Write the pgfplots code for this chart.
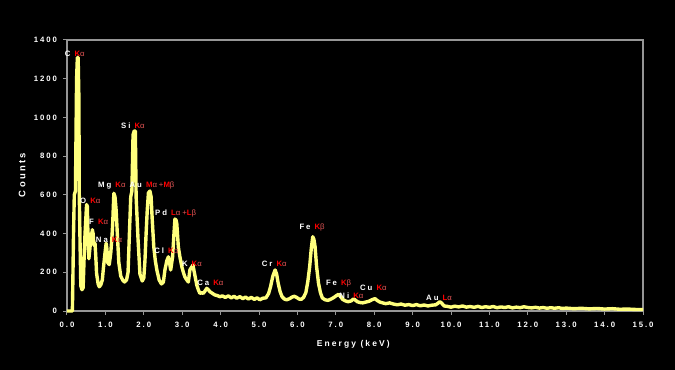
\documentclass[border=0pt]{standalone}
\usepackage{pgfplots}
\pgfplotsset{compat=1.18}
\usepackage{fontspec}
\setmainfont{Liberation Sans}
\newfontfamily\spc[LetterSpace=25]{Liberation Sans}
\definecolor{spec}{RGB}{255,255,125}
\definecolor{axgray}{RGB}{150,150,150}
\definecolor{lred}{RGB}{255,0,0}
\definecolor{gred}{RGB}{225,85,85}
\newcommand{\el}[1]{\textcolor{white}{#1}}
\newcommand{\lnn}[1]{\textcolor{lred}{#1}}
\newcommand{\gr}[1]{\textcolor{gred}{\mdseries #1}}
\tikzset{lab/.style={anchor=west, inner sep=0pt, font=\fontsize{7.8}{9}\selectfont\bfseries\spc}}
\begin{document}
\begin{tikzpicture}
\useasboundingbox (-67bp,-59bp) rectangle (608bp,311bp);
\fill[black] (-67bp,-59bp) rectangle (608bp,311bp);
\begin{axis}[
  at={(0,0)}, anchor=south west,
  scale only axis, width=576bp, height=271bp,
  xmin=0, xmax=15, ymin=0, ymax=1400,
  xtick={0,...,15}, ytick={0,200,...,1400},
  axis line style={axgray, line width=1.2bp},
  tick style={axgray, line width=1bp},
  tick align=outside, major tick length=3.5bp,
  xtick pos=bottom, ytick pos=left,
  clip=false,
  /pgf/number format/assume math mode=true,
  tick label style={font=\fontsize{7.8}{9}\selectfont\bfseries\spc, white},
  x tick label style={yshift=-4bp, /pgf/number format/fixed, /pgf/number format/fixed zerofill, /pgf/number format/precision=1},
  y tick label style={xshift=-3bp, /pgf/number format/1000 sep={}},
  xlabel={Energy (keV)},
  xlabel style={at={(axis description cs:0.497,-0.122)}, anchor=center, font=\fontsize{8.5}{10}\selectfont\bfseries\spc, white},
  ylabel={Counts},
  ylabel style={at={(axis description cs:-0.078,0.502)}, anchor=center, font=\fontsize{9.5}{11}\selectfont\bfseries\spc, white},
]
\addplot[spec, line width=3.4bp, line join=round, mark=none] table {
0.00 0
0.14 0
0.15 120
0.17 400
0.19 600
0.22 620
0.25 1200
0.27 1310
0.29 1310
0.31 1100
0.32 600
0.34 350
0.36 130
0.39 110
0.42 120
0.45 300
0.47 400
0.51 550
0.53 540
0.55 350
0.57 270
0.60 330
0.62 400
0.64 380
0.66 420
0.68 400
0.70 340
0.73 350
0.75 280
0.77 195
0.81 140
0.84 125
0.88 135
0.92 160
0.95 225
0.99 300
1.02 350
1.04 320
1.06 250
1.10 240
1.14 300
1.17 380
1.19 450
1.22 608
1.25 590
1.28 520
1.31 400
1.35 250
1.40 180
1.45 160
1.50 150
1.55 160
1.59 200
1.62 370
1.66 590
1.69 620
1.72 910
1.75 930
1.78 930
1.80 590
1.85 370
1.90 190
1.96 155
2.00 170
2.03 260
2.06 400
2.09 520
2.12 610
2.16 620
2.19 590
2.22 470
2.26 332
2.30 260
2.34 212
2.40 160
2.46 140
2.51 150
2.55 212
2.60 260
2.64 280
2.67 250
2.70 212
2.75 280
2.78 380
2.81 475
2.84 470
2.86 450
2.90 330
2.94 280
2.99 229
3.03 200
3.07 176
3.12 160
3.16 150
3.20 212
3.24 225
3.28 237
3.32 195
3.38 134
3.42 110
3.46 91
3.51 95
3.55 91
3.60 105
3.64 117
3.68 110
3.72 100
3.78 92
3.85 83
3.91 80
3.98 74
4.05 78
4.12 70
4.20 78
4.28 68
4.35 76
4.42 66
4.50 74
4.58 64
4.65 72
4.72 62
4.80 70
4.88 60
4.95 68
5.02 58
5.10 66
5.18 68
5.25 90
5.30 125
5.36 180
5.42 212
5.46 190
5.50 143
5.55 100
5.60 74
5.66 62
5.72 58
5.80 64
5.86 72
5.92 76
5.98 70
6.04 62
6.10 60
6.16 70
6.22 95
6.27 150
6.32 229
6.36 320
6.40 384
6.43 370
6.46 333
6.50 229
6.55 143
6.60 95
6.65 67
6.72 58
6.80 55
6.88 62
6.95 70
7.02 80
7.07 86
7.12 75
7.18 60
7.25 52
7.32 48
7.40 52
7.46 62
7.50 58
7.56 48
7.62 44
7.70 42
7.78 46
7.86 50
7.94 58
8.02 64
8.08 54
8.15 46
8.22 42
8.30 38
8.40 42
8.50 36
8.60 32
8.70 36
8.80 30
8.90 33
9.00 28
9.10 33
9.20 27
9.30 31
9.40 26
9.50 30
9.60 32
9.66 40
9.71 48
9.76 40
9.82 26
9.90 24
10.0 20
10.1 25
10.2 21
10.3 26
10.4 20
10.5 23
10.6 19
10.7 24
10.8 18
10.9 22
11.0 19
11.1 23
11.2 17
11.3 21
11.4 18
11.5 22
11.6 16
11.7 20
11.8 17
11.9 22
12.0 18
12.1 16
12.2 19
12.3 15
12.4 18
12.5 14
12.6 17
12.7 14
12.8 17
12.9 13
13.0 15
13.2 12
13.4 14
13.6 11
13.8 13
14.0 10
14.2 12
14.4 9
14.6 10
14.8 8
15.0 8
};
\node[lab] at (axis cs:-0.06,1327) {\el{C} \lnn{K}\gr{α}};
\node[lab] at (axis cs:1.406,955) {\el{Si} \lnn{K}\gr{α}};
\node[lab] at (axis cs:0.807,646) {\el{Mg} \lnn{K}\gr{α} \el{Au} \lnn{M}\gr{α+}\lnn{M}\gr{β}};
\node[lab] at (axis cs:0.339,568) {\el{O} \lnn{K}\gr{α}};
\node[lab] at (axis cs:0.573,460) {\el{F} \lnn{K}\gr{α}};
\node[lab] at (axis cs:0.75,370) {\el{Na} \lnn{K}\gr{α}};
\node[lab] at (axis cs:2.29,505) {\el{Pd} \lnn{L}\gr{α+}\lnn{L}\gr{β}};
\node[lab] at (axis cs:2.27,310) {\el{Cl} \lnn{K}\gr{α}};
\node[lab] at (axis cs:2.99,246) {\el{K} \lnn{K}\gr{α}};
\node[lab] at (axis cs:3.39,143) {\el{Ca} \lnn{K}\gr{α}};
\node[lab] at (axis cs:5.07,246) {\el{Cr} \lnn{K}\gr{α}};
\node[lab] at (axis cs:6.05,430) {\el{Fe} \lnn{K}\gr{β}};
\node[lab] at (axis cs:6.74,143) {\el{Fe} \lnn{K}\gr{β}};
\node[lab] at (axis cs:7.09,79) {\el{Ni} \lnn{K}\gr{α}};
\node[lab] at (axis cs:7.63,122) {\el{Cu} \lnn{K}\gr{α}};
\node[lab] at (axis cs:9.35,66) {\el{Au} \lnn{L}\gr{α}};
\end{axis}
\end{tikzpicture}
\end{document}
